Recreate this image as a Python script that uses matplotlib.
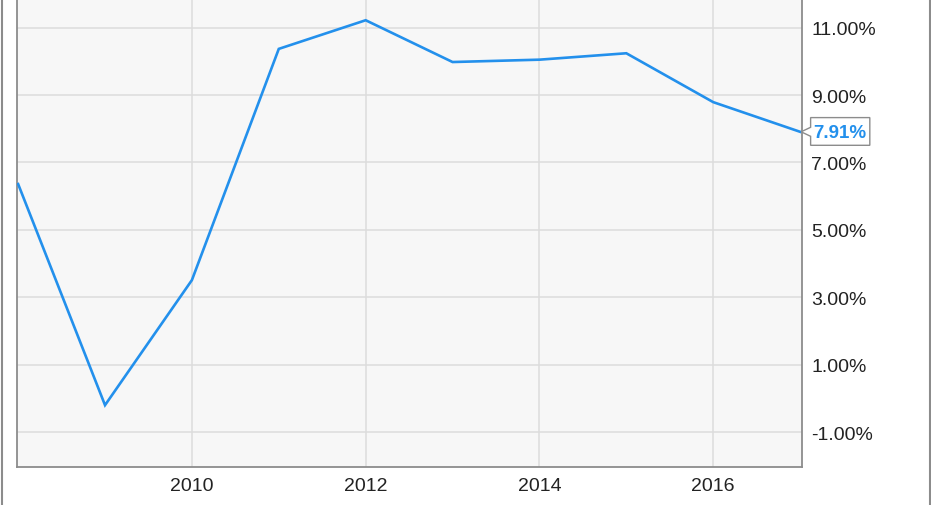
import matplotlib
matplotlib.use("Agg")
import matplotlib.pyplot as plt
import matplotlib.patches as mpatches
import matplotlib.transforms as mtransforms
from matplotlib.lines import Line2D

# values (annual, %)
years = [2008, 2009, 2010, 2011, 2012, 2013, 2014, 2015, 2016, 2017]
values = [6.36, -0.20, 3.51, 10.37, 11.22, 9.98, 10.05, 10.24, 8.79, 7.91]
x_ticks = [2010, 2012, 2014, 2016]
y_ticks = [-1, 1, 3, 5, 7, 9, 11]
last_label = "7.91%"

line_color = "#2390ec"
grid_color = "#dcdcdc"
frame_color = "#8c8c8c"

plt.rcParams["font.family"] = ["Liberation Sans", "DejaVu Sans"]

fig = plt.figure(figsize=(9.31, 5.06), dpi=100)
ax = fig.add_axes([17 / 931, 38 / 506, 784.5 / 931, 468 / 506])
ax.set_facecolor("#f7f7f7")

ax.plot(years, values, color=line_color, linewidth=1.9, solid_joinstyle="miter", zorder=3)

ax.set_xlim(2007.987, 2017.016)
ax.set_ylim(-2.035, 11.85)

ax.set_xticks(x_ticks)
ax.set_xticklabels([str(y) for y in x_ticks])
ax.set_yticks(y_ticks)
ax.set_yticklabels(["%.2f%%" % v for v in y_ticks])
ax.yaxis.tick_right()
ax.tick_params(axis="both", length=0, labelsize=14, colors="#222222")
ax.tick_params(axis="y", pad=7)
ax.tick_params(axis="x", pad=7)
ax.grid(True, color=grid_color, linewidth=1.1)
ax.set_axisbelow(True)

for side in ["left", "bottom", "right"]:
    ax.spines[side].set_color(frame_color)
    ax.spines[side].set_linewidth(1.3)
ax.spines["top"].set_visible(False)

# callout box for the latest value
trans = fig.dpi_scale_trans + mtransforms.ScaledTranslation(years[-1], values[-1], ax.transData)
box = [(0.01, 0.0), (0.105, 0.045), (0.105, 0.142), (0.697, 0.142),
       (0.697, -0.135), (0.105, -0.135), (0.105, -0.045)]
ax.add_patch(mpatches.Polygon(box, closed=True, transform=trans, facecolor="white",
                              edgecolor="#8c8c8c", linewidth=1.0, clip_on=False, zorder=5))
ax.text(0.401, -0.005, last_label, transform=trans, ha="center", va="center",
        fontsize=13.5, fontweight="bold", color=line_color, zorder=6, clip_on=False)

# outer image frame (left/right edges)
fig.add_artist(Line2D([1.5 / 931, 1.5 / 931], [0, 1], transform=fig.transFigure,
                      color=frame_color, linewidth=1.5))
fig.add_artist(Line2D([929.5 / 931, 929.5 / 931], [0, 1], transform=fig.transFigure,
                      color=frame_color, linewidth=1.5))

fig.savefig("out.png", dpi=100, facecolor="white")
